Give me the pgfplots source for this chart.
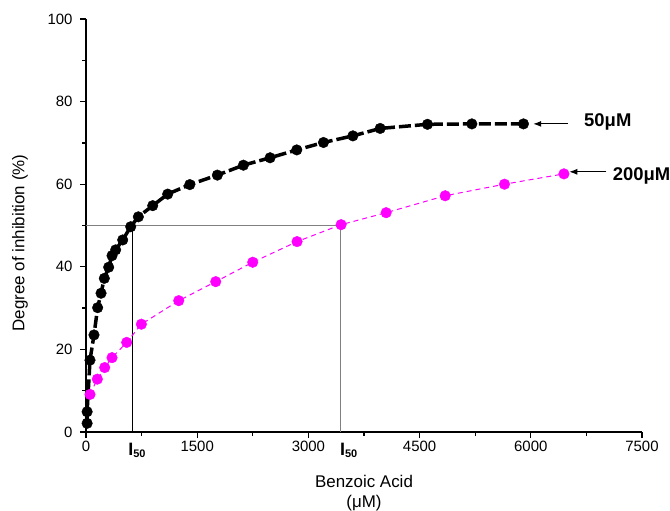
\documentclass[border=0pt]{standalone}
\usepackage{fontspec}
\setmainfont{Liberation Sans}
\usepackage{pgfplots}
\pgfplotsset{compat=1.18}
\usetikzlibrary{arrows.meta}
\definecolor{refgray}{RGB}{128,128,128}
\definecolor{mag}{RGB}{255,0,255}
\begin{document}
\begin{tikzpicture}
\begin{axis}[
  scale only axis, width=556bp, height=413bp,
  at={(0,0)}, anchor=south west,
  xmin=0, xmax=7500, ymin=0, ymax=100,
  axis x line*=bottom, axis y line*=left,
  axis line style={line width=1.5bp, -},
  xtick={0,1500,...,7500}, ytick={0,20,...,100},
  minor x tick num=1, minor y tick num=1,
  tick align=outside, major tick length=6bp, minor tick length=3.5bp,
  every tick/.style={black, line width=1.3bp},
  tick label style={font=\fontsize{15}{16}\selectfont},
  yticklabel style={xshift=-4bp},
  /pgf/number format/assume math mode=true,
  /pgf/number format/1000 sep={},
  xlabel={Benzoic Acid\\(μM)},
  xlabel style={at={(axis description cs:0.5,0)}, anchor=north, yshift=-43bp, inner sep=0pt, align=center, font=\fontsize{17}{20}\selectfont},
  ylabel={Degree of inhibition (\%)},
  ylabel style={at={(axis description cs:-0.1187,0.4576)}, anchor=center, inner sep=0pt, font=\fontsize{17}{20}\selectfont},
  clip=false,
]
% reference (I50) lines
\addplot[refgray, line width=1.2bp] coordinates {(0,50) (3437,50) (3437,0)};
\addplot[black, line width=1bp] coordinates {(624,50) (624,0)};
% 200 uM series
\addplot[mag, line width=1bp, dash pattern=on 5bp off 4bp, mark=*, mark size=5.3bp,
  mark options={solid, fill=mag, draw=mag, line width=0.4bp}] coordinates {
(54,9.1) (153,12.8) (252,15.6) (351,18.0) (549,21.7) (747,26.1) (1251,31.8)
(1750,36.4) (2249,41.1) (2847,46.1) (3441,50.2) (4049,53.1) (4845,57.2)
(5645,60.0) (6447,62.5)};
% 50 uM series
\addplot[black, line width=3.5bp, dash pattern=on 12bp off 4bp, mark=*, mark size=5.3bp,
  mark options={solid, fill=black, line width=0.4bp}] coordinates {
(15,2.1) (15,4.9) (54,17.4) (108,23.5) (157,30.1) (203,33.6) (247,37.2) (306,39.9)
(351,42.7) (400,44.1) (495,46.5) (603,49.7) (706,52.1) (900,54.8) (1102,57.6)
(1400,59.9) (1772,62.2) (2123,64.6) (2483,66.4) (2843,68.3) (3203,70.1)
(3600,71.7) (3968,73.5) (4606,74.5) (5205,74.6) (5901,74.6)};
% arrows and labels
\draw[-{Latex[length=8bp,width=6bp]}, line width=1bp] (axis cs:6505,74.6) -- (axis cs:6033,74.6);
\draw[-{Latex[length=8bp,width=6bp]}, line width=1bp] (axis cs:7018,63.0) -- (axis cs:6519,63.0);
\node[anchor=base west, inner sep=0pt, font=\fontsize{18.5}{20}\selectfont\bfseries] at (axis cs:6718,73.9) {50μM};
\node[anchor=base west, inner sep=0pt, font=\fontsize{18.5}{20}\selectfont\bfseries] at (axis cs:7105,61.0) {200μM};
% I50 labels
\node[anchor=base west, inner sep=0pt, yshift=-23bp] at (axis cs:568,0) {\fontsize{18}{18}\selectfont\bfseries I\raisebox{-2bp}{\fontsize{11}{11}\selectfont 50}};
\node[anchor=base west, inner sep=0pt, yshift=-23bp] at (axis cs:3425,0) {\fontsize{18}{18}\selectfont\bfseries I\raisebox{-2bp}{\fontsize{11}{11}\selectfont 50}};
\end{axis}
\pgfresetboundingbox
\path (-86bp,-79bp) rectangle (584bp,432bp);
\end{tikzpicture}
\end{document}
